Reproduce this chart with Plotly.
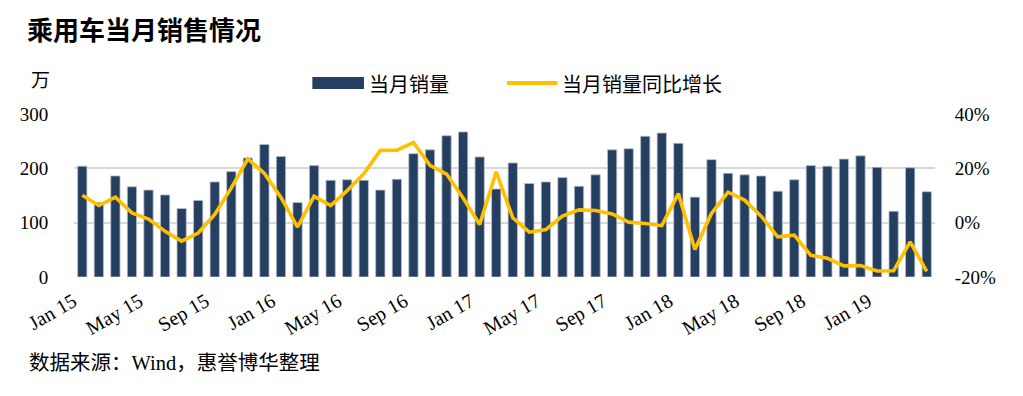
import plotly.graph_objects as go

months = [
    "Jan 15", "Feb 15", "Mar 15", "Apr 15", "May 15", "Jun 15", "Jul 15", "Aug 15", "Sep 15", "Oct 15", "Nov 15", "Dec 15",
    "Jan 16", "Feb 16", "Mar 16", "Apr 16", "May 16", "Jun 16", "Jul 16", "Aug 16", "Sep 16", "Oct 16", "Nov 16", "Dec 16",
    "Jan 17", "Feb 17", "Mar 17", "Apr 17", "May 17", "Jun 17", "Jul 17", "Aug 17", "Sep 17", "Oct 17", "Nov 17", "Dec 17",
    "Jan 18", "Feb 18", "Mar 18", "Apr 18", "May 18", "Jun 18", "Jul 18", "Aug 18", "Sep 18", "Oct 18", "Nov 18", "Dec 18",
    "Jan 19", "Feb 19", "Mar 19", "Apr 19",
]

sales = [
    204, 137, 186, 166, 160, 151, 126, 141, 175, 194, 219, 244,
    222, 137, 205, 178, 179, 178, 160, 180, 227, 234, 260, 267,
    221, 162, 210, 172, 175, 183, 167, 188, 234, 236, 259, 265,
    246, 147, 216, 191, 188, 186, 158, 179, 205, 204, 217, 223,
    202, 121, 201, 157,
]

yoy = [
    10.1, 6.3, 9.4, 3.6, 1.3, -3.2, -6.8, -3.8, 3.0, 12.8, 23.5, 18.1,
    9.3, -1.6, 9.7, 6.3, 11.8, 18.0, 26.6, 26.7, 29.5, 21.1, 17.9, 9.1,
    -0.7, 18.7, 1.8, -3.5, -2.5, 2.4, 4.7, 4.5, 3.2, 0.2, -0.3, -1.1,
    10.7, -9.9, 3.4, 11.2, 8.3, 2.4, -5.2, -4.6, -12.0, -13.1, -15.9, -15.8,
    -17.8, -17.7, -7.1, -17.9,
]

tick_months = ["Jan 15", "May 15", "Sep 15", "Jan 16", "May 16", "Sep 16", "Jan 17",
               "May 17", "Sep 17", "Jan 18", "May 18", "Sep 18", "Jan 19"]

left_ticks = [0, 100, 200, 300]
left_labels = ["0", "100", "200", "300"]
right_ticks = [-20, 0, 20, 40]
right_labels = ["-20%", "0%", "20%", "40%"]

title_text = "乘用车当月销售情况"
unit_text = "万"
bar_name = "当月销量"
line_name = "当月销量同比增长"
source_text = "数据来源：Wind，惠誉博华整理"

BAR_COLOR = "#243F60"
LINE_COLOR = "#FFC000"
GRID = "#D9D9D9"
SERIF = "Liberation Serif"
CJK = "Noto Sans CJK SC"
MIX = "Liberation Serif, Noto Sans CJK SC"

# The page body has an 8px margin; the figure is placed at (8, 8).
OFF = 8
W, H = 1023 - OFF, 396 - OFF
L, R, T, B = 68 - OFF, 935 - OFF, 114 - OFF, 277 - OFF


def px(xp):
    return (xp - OFF - L) / (R - L)


def py(yp):
    return (B - (yp - OFF)) / (B - T)


fig = go.Figure()
fig.add_trace(go.Bar(
    x=months, y=sales, name=bar_name, yaxis="y",
    marker=dict(color=BAR_COLOR, line=dict(color="#B8BFCA", width=0.8)),
    showlegend=False,
))
fig.add_trace(go.Scatter(
    x=months, y=yoy, name=line_name, yaxis="y2", mode="lines",
    line=dict(color=LINE_COLOR, width=3.6),
    showlegend=False,
))

fig.update_layout(
    width=W, height=H,
    margin=dict(l=L, r=W - R, t=T, b=H - B, pad=0),
    paper_bgcolor="white", plot_bgcolor="white",
    bargap=0.44,
    xaxis=dict(
        type="category", categoryorder="array", categoryarray=months,
        range=[-0.5, len(months) - 0.5],
        tickmode="array", tickvals=tick_months, ticktext=tick_months,
        tickangle=-30, tickfont=dict(family=SERIF, size=20, color="black"),
        ticklabelshift=-9,
        showgrid=False, showline=False, zeroline=False,
        ticks="outside", ticklen=4, tickcolor="rgba(0,0,0,0)",
    ),
    yaxis=dict(
        range=[0, 300], tickmode="array", tickvals=left_ticks, ticktext=left_labels,
        tickfont=dict(family=SERIF, size=19, color="black"),
        showgrid=True, gridcolor=GRID, gridwidth=2,
        zeroline=False, showline=False,
        ticks="outside", ticklen=21, tickcolor="rgba(0,0,0,0)",
    ),
    yaxis2=dict(
        range=[-20, 40], tickmode="array", tickvals=right_ticks, ticktext=right_labels,
        overlaying="y", side="right",
        tickfont=dict(family=SERIF, size=19, color="black"),
        showgrid=False, zeroline=False, showline=False,
        ticks="outside", ticklen=15, tickcolor="rgba(0,0,0,0)",
    ),
    title=dict(
        text=title_text, xref="container", yref="container",
        x=(27 - OFF) / W, xanchor="left",
        y=1 - (31 - OFF) / H, yanchor="middle",
        font=dict(family=CJK, size=26, color="black", weight="bold"),
    ),
)

annotations = [
    dict(text=unit_text, x=px(23), y=py(78), xref="paper", yref="paper",
         xanchor="left", yanchor="middle", showarrow=False,
         font=dict(family=CJK, size=19, color="black")),
    dict(text=bar_name, x=px(363), y=py(83), xref="paper", yref="paper",
         xanchor="left", yanchor="middle", showarrow=False,
         font=dict(family=CJK, size=20, color="black")),
    dict(text=line_name, x=px(557), y=py(83), xref="paper", yref="paper",
         xanchor="left", yanchor="middle", showarrow=False,
         font=dict(family=CJK, size=20, color="black")),
    dict(text=source_text, x=px(21), y=py(363), xref="paper", yref="paper",
         xanchor="left", yanchor="middle", showarrow=False,
         font=dict(family=MIX, size=20.5, color="black")),
]
fig.update_layout(annotations=annotations)

shapes = [
    dict(type="rect", xref="paper", yref="paper",
         x0=px(308), x1=px(360), y0=py(89), y1=py(77),
         fillcolor=BAR_COLOR, line=dict(width=0)),
    dict(type="line", xref="paper", yref="paper",
         x0=px(504), x1=px(555), y0=py(83), y1=py(83),
         line=dict(color=LINE_COLOR, width=4)),
]
fig.update_layout(shapes=shapes)

fig.write_html("out.html")
